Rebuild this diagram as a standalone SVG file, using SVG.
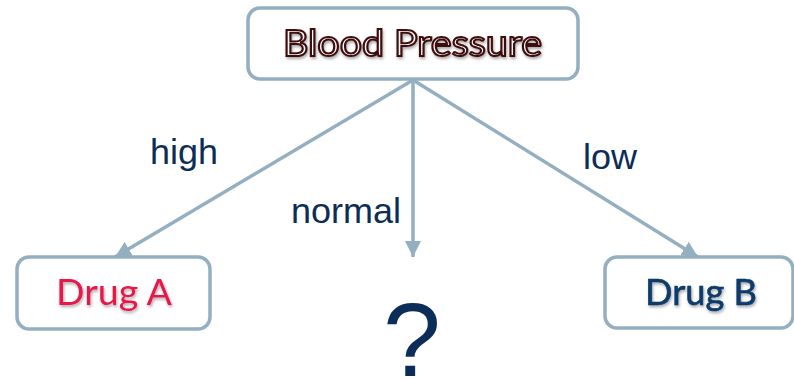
<svg xmlns="http://www.w3.org/2000/svg" width="794" height="379" viewBox="0 0 794 379">
<style>
.box{fill:#ffffff;stroke:#93afc0;stroke-width:3.5}
.conn{stroke:#93afc0;stroke-width:3.5;fill:none}
.lbl{font-family:"Liberation Sans",Arial,sans-serif;font-size:35px;fill:#0c2d57}
.node{font-family:Lato,"Open Sans",sans-serif;font-size:36px}
</style>
<defs>
<marker id="arr" markerUnits="userSpaceOnUse" markerWidth="18" markerHeight="16" refX="16" refY="8" orient="auto">
<path d="M0,0 L16,8 L0,16 z" fill="#93afc0"/>
</marker>
<filter id="sh" x="-10%" y="-30%" width="120%" height="160%">
<feGaussianBlur in="SourceAlpha" stdDeviation="1.5"/>
<feOffset dx="1" dy="2" result="b"/>
<feComponentTransfer><feFuncA type="linear" slope="0.35"/></feComponentTransfer>
<feMerge><feMergeNode/><feMergeNode in="SourceGraphic"/></feMerge>
</filter>
</defs>
<rect width="794" height="379" fill="#ffffff"/>
<g id="connectors">
<line class="conn" x1="413" y1="80" x2="115" y2="257" marker-end="url(#arr)"/>
<line class="conn" x1="413" y1="80" x2="413" y2="257" marker-end="url(#arr)"/>
<line class="conn" x1="413" y1="80" x2="698" y2="257" marker-end="url(#arr)"/>
<text class="lbl" x="150" y="164" textLength="68" lengthAdjust="spacingAndGlyphs">high</text>
<text class="lbl" x="291" y="223" textLength="110" lengthAdjust="spacingAndGlyphs">normal</text>
<text class="lbl" x="583" y="169" textLength="54" lengthAdjust="spacingAndGlyphs">low</text>
</g>
<g id="blood-pressure">
<rect class="box" x="248" y="8" width="330" height="71" rx="12"/>
<text class="node" x="283" y="56" textLength="259" lengthAdjust="spacingAndGlyphs" fill="#ffffff" stroke="#3d0b0b" stroke-width="2" paint-order="normal" filter="url(#sh)">Blood Pressure</text>
</g>
<g id="drug-a">
<rect class="box" x="17" y="257" width="193" height="72" rx="12"/>
<text class="node" x="56" y="305" textLength="116" lengthAdjust="spacingAndGlyphs" fill="#e8194a" filter="url(#sh)">Drug A</text>
</g>
<g id="drug-b">
<rect class="box" x="605" y="257" width="188" height="71" rx="12"/>
<text class="node" x="645" y="305" textLength="112" lengthAdjust="spacingAndGlyphs" fill="#0c3a6b" stroke="#0c3a6b" stroke-width="0.6" filter="url(#sh)">Drug B</text>
</g>
<g id="unknown">
<text x="383" y="376" font-family="Liberation Sans,Arial,sans-serif" font-size="104" fill="#0c2d57">?</text>
</g>
</svg>
